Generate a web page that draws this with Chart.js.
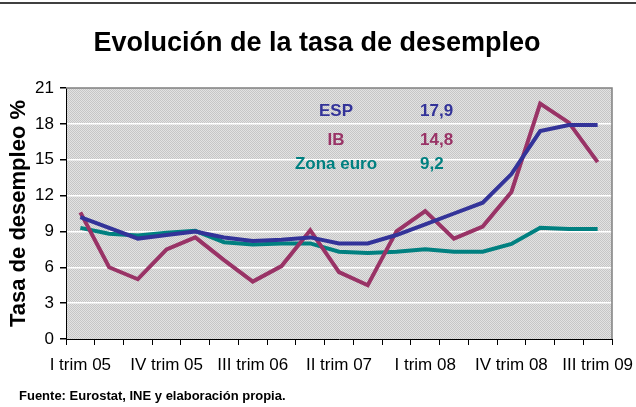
<!DOCTYPE html>
<html>
<head>
<meta charset="utf-8">
<script src="https://cdn.jsdelivr.net/npm/chart.js@4"></script>
<style>
  body { margin: 0; background: #fff; }
  #wrap { width: 636px; height: 407px; position: relative; }
</style>
</head>
<body>
<div id="wrap"><canvas id="paro" width="636" height="407"></canvas></div>
<script>
var trimestres = ["I trim 05", "II trim 05", "III trim 05", "IV trim 05",
  "I trim 06", "II trim 06", "III trim 06", "IV trim 06",
  "I trim 07", "II trim 07", "III trim 07", "IV trim 07",
  "I trim 08", "II trim 08", "III trim 08", "IV trim 08",
  "I trim 09", "II trim 09", "III trim 09"];
var espData = [10.2, 9.3, 8.4, 8.7, 9.0, 8.5, 8.2, 8.3, 8.5, 8.0, 8.0, 8.7, 9.6, 10.5, 11.4, 13.8, 17.4, 17.9, 17.9];
var ibData = [10.6, 6.0, 5.0, 7.5, 8.5, 6.6, 4.8, 6.1, 9.1, 5.6, 4.5, 9.0, 10.7, 8.4, 9.4, 12.3, 19.7, 18.1, 14.8];
var euroData = [9.3, 8.8, 8.65, 8.9, 9.05, 8.1, 7.9, 8.0, 8.0, 7.3, 7.2, 7.3, 7.5, 7.3, 7.3, 7.95, 9.3, 9.2, 9.2];
var yTicks = [0, 3, 6, 9, 12, 15, 18, 21];
var resumen = [["ESP", "17,9", "#333399"], ["IB", "14,8", "#993366"], ["Zona euro", "9,2", "#008080"]];

var fuente = '"Liberation Sans", Arial, sans-serif';

// fondo punteado gris del area de trazado
function tramaGris(ctx) {
  var c = document.createElement('canvas');
  c.width = 2; c.height = 2;
  var g = c.getContext('2d');
  g.fillStyle = '#e2e2e2'; g.fillRect(0, 0, 2, 2);
  g.fillStyle = '#c6c6c6'; g.fillRect(0, 0, 1, 1); g.fillRect(1, 1, 1, 1);
  return ctx.createPattern(c, 'repeat');
}

var decoracion = {
  id: 'decoracion',
  beforeDraw: function(chart) {
    var ctx = chart.ctx, a = chart.chartArea;
    ctx.save();
    ctx.fillStyle = tramaGris(ctx);
    ctx.fillRect(a.left, a.top, a.right - a.left, a.bottom - a.top);
    ctx.restore();
  },
  afterDraw: function(chart) {
    var ctx = chart.ctx, a = chart.chartArea;
    ctx.save();
    // borde gris superior y derecho
    ctx.strokeStyle = '#808080';
    ctx.lineWidth = 1.5;
    ctx.beginPath();
    ctx.moveTo(a.left, a.top);
    ctx.lineTo(a.right, a.top);
    ctx.lineTo(a.right, a.bottom);
    ctx.stroke();
    // linea negra superior
    ctx.strokeStyle = '#000';
    ctx.lineWidth = 1.5;
    ctx.beginPath();
    ctx.moveTo(0, 3); ctx.lineTo(636, 3);
    ctx.stroke();
    // titulo
    ctx.fillStyle = '#000';
    ctx.textAlign = 'center';
    ctx.textBaseline = 'middle';
    ctx.font = 'bold 27px ' + fuente;
    ctx.fillText('Evolución de la tasa de desempleo', 317, 44);
    // fuente
    ctx.textAlign = 'left';
    ctx.font = 'bold 13px ' + fuente;
    ctx.fillText('Fuente: Eurostat, INE y elaboración propia.', 19, 396);
    // cuadro de valores
    ctx.font = 'bold 17px ' + fuente;
    var ys = [111, 140, 164];
    resumen.forEach(function(r, i) {
      ctx.fillStyle = r[2];
      ctx.textAlign = 'center';
      ctx.fillText(r[0], 336, ys[i]);
      ctx.textAlign = 'left';
      ctx.fillText(r[1], 420, ys[i]);
    });
    ctx.restore();
  }
};

var ctx = document.getElementById('paro').getContext('2d');

var paroChart = new Chart(ctx, {
  type: 'line',
  data: {
    labels: trimestres,
    datasets: [
      { label: 'ESP', data: espData, borderColor: '#333399', borderWidth: 4, pointRadius: 0, tension: 0, fill: false },
      { label: 'IB', data: ibData, borderColor: '#993366', borderWidth: 4, pointRadius: 0, tension: 0, fill: false },
      { label: 'Zona euro', data: euroData, borderColor: '#008080', borderWidth: 4, pointRadius: 0, tension: 0, fill: false }
    ]
  },
  options: {
    responsive: false,
    animation: false,
    layout: { padding: { top: 88, right: 24, bottom: 28, left: 0 } },
    plugins: {
      legend: { display: false },
      tooltip: { enabled: false }
    },
    scales: {
      x: {
        offset: true,
        grid: { offset: true, drawOnChartArea: false, tickLength: 6, tickColor: '#000' },
        border: { color: '#000', width: 1 },
        ticks: {
          autoSkip: false,
          maxRotation: 0,
          color: '#000',
          font: { family: fuente, size: 17 },
          padding: 10,
          callback: function(v, i) { return i % 3 === 0 ? trimestres[i] : ''; }
        },
        afterFit: function(s) { s.height = 40; s.paddingLeft = 0; s.paddingRight = 0; }
      },
      y: {
        min: 0,
        max: 21,
        afterBuildTicks: function(s) { s.ticks = yTicks.map(function(v) { return { value: v }; }); },
        grid: {
          color: function(c) { return c.tick.value === 0 || c.tick.value === 21 ? 'rgba(0,0,0,0)' : '#ffffff'; },
          lineWidth: 1.5,
          tickLength: 6,
          tickColor: '#000'
        },
        border: { color: '#000', width: 1 },
        ticks: { color: '#000', font: { family: fuente, size: 17 }, padding: 6 },
        title: {
          display: true,
          text: 'Tasa de desempleo %',
          color: '#000',
          font: { family: fuente, size: 22, weight: 'bold' },
          padding: { top: 6, bottom: 0 }
        },
        afterFit: function(s) { s.width = 66; }
      }
    }
  },
  plugins: [decoracion]
});
</script>
</body>
</html>
